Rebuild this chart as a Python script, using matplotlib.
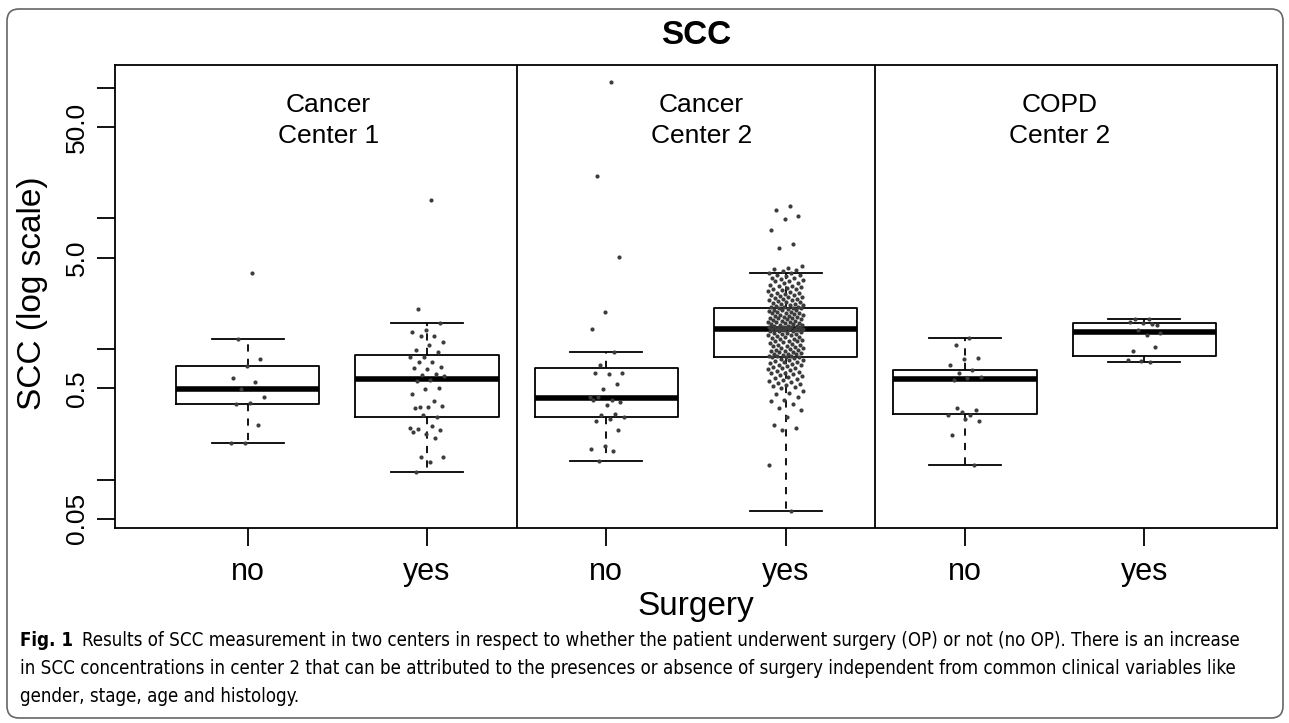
import numpy as np
import matplotlib
matplotlib.use('Agg')
import matplotlib.pyplot as plt
from matplotlib import font_manager
from matplotlib.patches import FancyBboxPatch
from matplotlib.transforms import IdentityTransform, blended_transform_factory
from matplotlib.ticker import NullLocator

plt.rcParams['font.family'] = ['Liberation Sans', 'DejaVu Sans']

# data (SCC values, per group)
c1_no = [3.8, 1.19, 0.84, 0.745, 0.6, 0.56, 0.49, 0.43, 0.385, 0.38, 0.26, 0.19, 0.19]
c1_yes = [13.8, 2.03, 1.59, 1.40, 1.35, 1.25, 1.26, 1.12, 1.07, 0.98, 0.95, 0.87, 0.86,
          0.79, 0.80, 0.73, 0.70, 0.71, 0.64, 0.63, 0.62, 0.58, 0.57, 0.50, 0.49, 0.45,
          0.40, 0.36, 0.365, 0.36, 0.355, 0.30, 0.31, 0.25, 0.255, 0.245, 0.24, 0.225,
          0.23, 0.207, 0.15, 0.148, 0.136, 0.115]
c2_no = [110, 21.1, 5.05, 1.92, 1.43, 0.94, 0.76, 0.65, 0.64, 0.66, 0.54, 0.49, 0.43,
         0.41, 0.43, 0.39, 0.37, 0.41, 0.32, 0.31, 0.30, 0.29, 0.28, 0.24, 0.18, 0.17,
         0.165, 0.138]
c2_yes = [12.5, 11.6, 10.5, 9.9, 8.1, 6.4, 5.9, 4.3, 4.2, 4.1, 4.0, 3.95,
          3.84, 3.78, 3.71, 3.69, 3.6, 3.52, 3.5, 3.43, 3.38, 3.31, 3.3, 3.22, 3.17,
          3.11, 3.05, 3.02, 2.97, 2.93, 2.9, 2.86, 2.81, 2.79, 2.74, 2.7, 2.69, 2.64,
          2.6, 2.57, 2.55, 2.51, 2.48, 2.45, 2.43, 2.4, 2.37, 2.35, 2.31, 2.29, 2.27,
          2.24, 2.22, 2.2, 2.17, 2.15, 2.13, 2.11, 2.09, 2.08, 2.06, 2.05,
          2.04, 2.02, 2.0, 1.98, 1.97, 1.95, 1.93, 1.92, 1.9, 1.88, 1.87, 1.85, 1.83,
          1.82, 1.8, 1.78, 1.77, 1.75, 1.74, 1.72, 1.71, 1.69, 1.68, 1.66, 1.65, 1.64,
          1.62, 1.61, 1.6, 1.58, 1.57, 1.56, 1.55, 1.53, 1.52, 1.51, 1.5, 1.49, 1.48,
          1.47, 1.46, 1.45, 1.45, 1.44, 1.43, 1.43, 1.42, 1.42, 1.41, 1.41,
          1.4, 1.39, 1.38, 1.37, 1.36, 1.35, 1.33, 1.32, 1.31, 1.3, 1.28, 1.27, 1.26,
          1.24, 1.23, 1.22, 1.2, 1.19, 1.18, 1.16, 1.15, 1.14, 1.12, 1.11, 1.1, 1.08,
          1.07, 1.06, 1.05, 1.04, 1.02, 1.01, 1.0, 0.99, 0.98, 0.97, 0.96, 0.95, 0.94,
          0.93, 0.92, 0.92, 0.91, 0.9, 0.89, 0.89, 0.88, 0.87, 0.87, 0.86,
          0.85, 0.84, 0.83, 0.82, 0.81, 0.8, 0.79, 0.78, 0.77, 0.76, 0.75, 0.74, 0.73,
          0.72, 0.71, 0.7, 0.69, 0.68, 0.67, 0.66, 0.65, 0.64, 0.63, 0.62, 0.61, 0.6,
          0.59, 0.58, 0.57, 0.56, 0.55, 0.54, 0.53, 0.52, 0.51, 0.5, 0.48, 0.46, 0.45,
          0.43, 0.41, 0.4, 0.38, 0.35, 0.34, 0.3, 0.26, 0.25, 0.24, 0.13, 0.057]
copd_no = [1.21, 1.07, 0.85, 0.84, 0.76, 0.69, 0.65, 0.61, 0.60, 0.58, 0.34, 0.33, 0.31,
           0.31, 0.35, 0.28, 0.29, 0.22, 0.13]
copd_yes = [1.70, 1.70, 1.52, 1.58, 1.62, 1.55, 1.40, 1.33, 1.27, 0.96, 1.03, 0.81, 0.82, 0.79]

# box statistics as drawn
medians = [0.49, 0.59, 0.42, 1.41, 0.59, 1.35]
q1 = [0.381, 0.30, 0.303, 0.86, 0.315, 0.89]
q3 = [0.745, 0.90, 0.72, 2.05, 0.69, 1.58]
whislo = [0.19, 0.115, 0.138, 0.057, 0.13, 0.79]
whishi = [1.19, 1.59, 0.94, 3.84, 1.21, 1.70]

surgery = ['no', 'yes', 'no', 'yes', 'no', 'yes']
panels = ['Cancer\nCenter 1', 'Cancer\nCenter 2', 'COPD\nCenter 2']
ytick_vals = [0.05, 0.1, 0.5, 1, 5, 10, 50, 100]
ytick_labels = ['0.05', '', '0.5', '', '5.0', '', '50.0', '']

caption_lines = [
    'Results of SCC measurement in two centers in respect to whether the patient underwent surgery (OP) or not (no OP). There is an increase',
    'in SCC concentrations in center 2 that can be attributed to the presences or absence of surgery independent from common clinical variables like',
    'gender, stage, age and histology.',
]


def condensed_font(bold):
    # look for an installed narrow / condensed sans face for the caption
    best = None
    for f in font_manager.fontManager.ttflist:
        nm = f.name
        narrow = ('Narrow' in nm or 'Condensed' in nm or 'Cond' in f.fname
                  or f.stretch in ('condensed', 'semi-condensed'))
        if not narrow or f.style != 'normal' or 'Mono' in nm or 'Serif' in nm:
            continue
        w = f.weight if isinstance(f.weight, int) else font_manager.weight_dict.get(f.weight, 400)
        if (w >= 600) != bold:
            continue
        score = abs(w - (700 if bold else 400))
        if 'Liberation' in nm:
            score -= 1000
        if best is None or score < best[0]:
            best = (score, f.fname)
    if best is None:
        return font_manager.FontProperties(family='Liberation Sans',
                                           weight='bold' if bold else 'normal')
    return font_manager.FontProperties(fname=best[1])


W, H = 1289, 723
fig = plt.figure(figsize=(W / 100, H / 100), dpi=100)

# rounded frame around the whole figure
frame = FancyBboxPatch((7, 5), 1276, 709, boxstyle='round,pad=0,rounding_size=12',
                       transform=IdentityTransform(), facecolor='none',
                       edgecolor='#666666', linewidth=1.2)
fig.add_artist(frame)

ax = fig.add_axes([115 / W, 1 - 528 / H, (1277 - 115) / W, (528 - 65) / H])

groups = [c1_no, c1_yes, c2_no, c2_yes, copd_no, copd_yes]
positions = [1, 2, 3, 4, 5, 6]

stats = []
for i in range(6):
    stats.append(dict(med=medians[i], q1=q1[i], q3=q3[i],
                      whislo=whislo[i], whishi=whishi[i]))

lw = 1.3
ax.bxp(stats, positions=positions, widths=0.8, capwidths=0.4, showfliers=False,
       boxprops=dict(color='black', linewidth=lw),
       medianprops=dict(color='black', linewidth=4, solid_capstyle='butt'),
       whiskerprops=dict(color='black', linewidth=lw, linestyle=(0, (4, 4))),
       capprops=dict(color='black', linewidth=lw))

# jittered points (deterministic spread)
golden = 0.6180339887
for pos, vals in zip(positions, groups):
    k = np.arange(len(vals)) + 1
    off = ((k * golden) % 1 - 0.5) * 0.2
    ax.scatter(pos + off, vals, s=9, color='#3c3c3c', linewidths=0, zorder=5)

ax.axvline(2.5, color='black', linewidth=lw)
ax.axvline(4.5, color='black', linewidth=lw)

ax.set_yscale('log')
ax.set_ylim(0.0426, 149)
ax.set_xlim(0.26, 6.74)
ax.set_yticks(ytick_vals)
ax.set_yticklabels(ytick_labels)
ax.yaxis.set_minor_locator(NullLocator())
ax.set_xticks(positions)
ax.set_xticklabels(surgery)
ax.tick_params(axis='y', length=13, width=lw, labelsize=19, pad=6)
ax.tick_params(axis='x', length=13, width=lw, labelsize=22, pad=8)
for lab in ax.get_yticklabels():
    lab.set_rotation(90)
    lab.set_va('center')
for s in ax.spines.values():
    s.set_linewidth(lw)

trans = blended_transform_factory(ax.transData, ax.transAxes)
for x, txt in zip([1.45, 3.53, 5.53], panels):
    ax.text(x, 0.94, txt, transform=trans, ha='center', va='top', fontsize=19,
            linespacing=1.38)

fig.text(696 / W, 1 - 36 / H, 'SCC', fontsize=24, fontweight='bold',
         ha='center', va='center')
fig.text(33 / W, 1 - 293 / H, 'SCC (log scale)', fontsize=24, rotation=90,
         ha='center', va='center')
fig.text(696 / W, 1 - 607 / H, 'Surgery', fontsize=24, ha='center', va='center')

# caption
fp_reg = condensed_font(False)
fp_bold = condensed_font(True)
t1 = fig.text(82 / W, 1 - 641 / H, caption_lines[0], fontproperties=fp_reg,
              ha='left', va='center')
t1.set_fontsize(14)
r = fig.canvas.get_renderer()
wpx = t1.get_window_extent(r).width
cap_size = min(14 * 1173 / wpx, 15.5)
t1.set_fontsize(cap_size)
tf = fig.text(20 / W, 1 - 641 / H, 'Fig. 1', fontproperties=fp_bold,
              ha='left', va='center')
tf.set_fontsize(cap_size)
for txt, yy in zip(caption_lines[1:], [668, 696]):
    t = fig.text(20 / W, 1 - yy / H, txt, fontproperties=fp_reg, ha='left', va='center')
    t.set_fontsize(cap_size)

fig.savefig('out.png', dpi=100)
